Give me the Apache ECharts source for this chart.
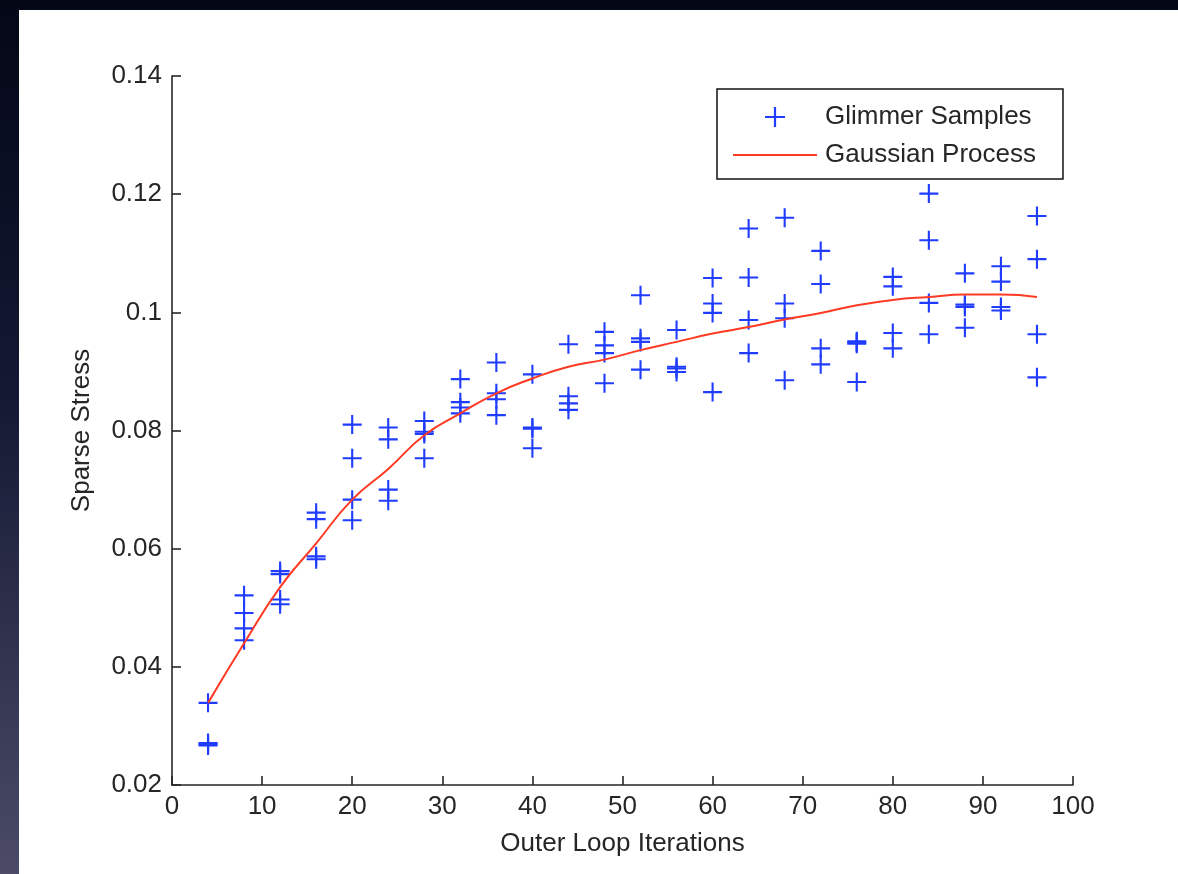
<!DOCTYPE html>
<html>
<head>
  <meta charset="UTF-8">
  <title>Sparse Stress</title>
  <script src="https://cdn.jsdelivr.net/npm/echarts@6/dist/echarts.min.js"></script>
</head>
<body style="margin: 0; width: 1178px; height: 874px; overflow: hidden; background: linear-gradient(to bottom, #030716 0%, #141833 45%, #4b4b67 100%);">
  <div id="main" style="position: absolute; left: 19px; top: 10px; width: 1159px; height: 864px; background: #ffffff;"></div>
  <script type="text/javascript">
    // outer loop iteration counts (x positions of sample columns)
    var iterations = [4, 8, 12, 16, 20, 24, 28, 32, 36, 40, 44, 48, 52, 56, 60, 64, 68, 72, 76, 80, 84, 88, 92, 96];

    // glimmer samples, four runs per iteration count
    var samples = [
      [0.0339, 0.0271, 0.0267, 0.0269],
      [0.0521, 0.0491, 0.0465, 0.0445],
      [0.0562, 0.0557, 0.0514, 0.0506],
      [0.0661, 0.0650, 0.0587, 0.0582],
      [0.0810, 0.0753, 0.0683, 0.0648],
      [0.0805, 0.0785, 0.0700, 0.0681],
      [0.0816, 0.0798, 0.0794, 0.0753],
      [0.0887, 0.0848, 0.0839, 0.0829],
      [0.0915, 0.0863, 0.0853, 0.0826],
      [0.0895, 0.0805, 0.0803, 0.0770],
      [0.0946, 0.0858, 0.0846, 0.0835],
      [0.0967, 0.0944, 0.0931, 0.0880],
      [0.1029, 0.0956, 0.0950, 0.0903],
      [0.0970, 0.0908, 0.0905, 0.0899],
      [0.1058, 0.1015, 0.0999, 0.0865],
      [0.1142, 0.1059, 0.0987, 0.0931],
      [0.1160, 0.1015, 0.0990, 0.0885],
      [0.1104, 0.1048, 0.0939, 0.0912],
      [0.0951, 0.0947, 0.0949, 0.0882],
      [0.1060, 0.1044, 0.0965, 0.0939],
      [0.1201, 0.1122, 0.1016, 0.0963],
      [0.1066, 0.1013, 0.1009, 0.0974],
      [0.1078, 0.1052, 0.1009, 0.1003],
      [0.1163, 0.1090, 0.0963, 0.0890]
    ];

    // gaussian process mean at each iteration count
    var gpMean = [0.0339, 0.0440, 0.0535, 0.0609, 0.0683, 0.0735, 0.0792, 0.0829, 0.0863, 0.0888, 0.0908, 0.0920,
      0.0936, 0.0950, 0.0964, 0.0975, 0.0988, 0.0999, 0.1012, 0.1021, 0.1026, 0.1030, 0.1030, 0.1026];

    var xTicks = { min: 0, max: 100, interval: 10 };
    var yTicks = { min: 0.02, max: 0.14, interval: 0.02 };

    var scatterData = [];
    for (var i = 0; i < iterations.length; i++) {
      for (var j = 0; j < samples[i].length; j++) {
        scatterData.push([iterations[i], samples[i][j]]);
      }
    }
    var lineData = iterations.map(function (it, k) { return [it, gpMean[k]]; });

    var plus = 'path://M8,0H10V8H18V10H10V18H8V10H0V8H8Z';
    var dash = 'path://M0,0H84V2H0Z';
    var font = "'Liberation Sans', Arial, sans-serif";
    var ink = '#262626';
    var fs = 26;

    var chart = echarts.init(document.getElementById('main'));
    chart.setOption({
      animation: false,
      backgroundColor: '#ffffff',
      textStyle: { fontFamily: font },
      grid: { left: 153, top: 66, right: 105, bottom: 89, containLabel: false },
      legend: {
        left: 698,
        top: 79,
        orient: 'vertical',
        padding: [15, 27, 11, 16],
        itemGap: 12,
        itemWidth: 84,
        itemHeight: 20,
        borderColor: '#111',
        borderWidth: 1.5,
        backgroundColor: '#fff',
        symbolKeepAspect: true,
        textStyle: { fontSize: fs, color: ink, fontFamily: font, padding: [0, 0, 0, 3] },
        data: [
          { name: 'Glimmer Samples', icon: plus },
          { name: 'Gaussian Process', icon: dash }
        ]
      },
      xAxis: {
        type: 'value',
        min: xTicks.min,
        max: xTicks.max,
        interval: xTicks.interval,
        name: 'Outer Loop Iterations',
        nameLocation: 'middle',
        nameGap: 46,
        nameTextStyle: { fontSize: fs, color: ink },
        axisLine: { onZero: false, lineStyle: { color: ink, width: 1.6 } },
        axisTick: { inside: true, length: 9, lineStyle: { color: ink, width: 1.6 } },
        axisLabel: { fontSize: fs, color: ink, margin: 9 },
        splitLine: { show: false }
      },
      yAxis: {
        type: 'value',
        min: yTicks.min,
        max: yTicks.max,
        interval: yTicks.interval,
        name: 'Sparse Stress',
        nameLocation: 'middle',
        nameGap: 77,
        nameTextStyle: { fontSize: fs, color: ink },
        axisLine: { show: true, onZero: false, lineStyle: { color: ink, width: 1.6 } },
        axisTick: { show: true, inside: true, length: 9, lineStyle: { color: ink, width: 1.6 } },
        axisLabel: { fontSize: fs, color: ink, margin: 10 },
        splitLine: { show: false }
      },
      series: [
        {
          name: 'Glimmer Samples',
          type: 'scatter',
          symbol: plus,
          symbolSize: 19,
          symbolKeepAspect: true,
          itemStyle: { color: '#1f3cff', opacity: 1 },
          data: scatterData,
          z: 2
        },
        {
          name: 'Gaussian Process',
          type: 'line',
          smooth: true,
          symbol: 'none',
          showSymbol: false,
          itemStyle: { color: '#ff3a24' },
          lineStyle: { color: '#ff3a24', width: 2 },
          data: lineData,
          z: 3
        }
      ]
    });
  </script>
</body>
</html>
